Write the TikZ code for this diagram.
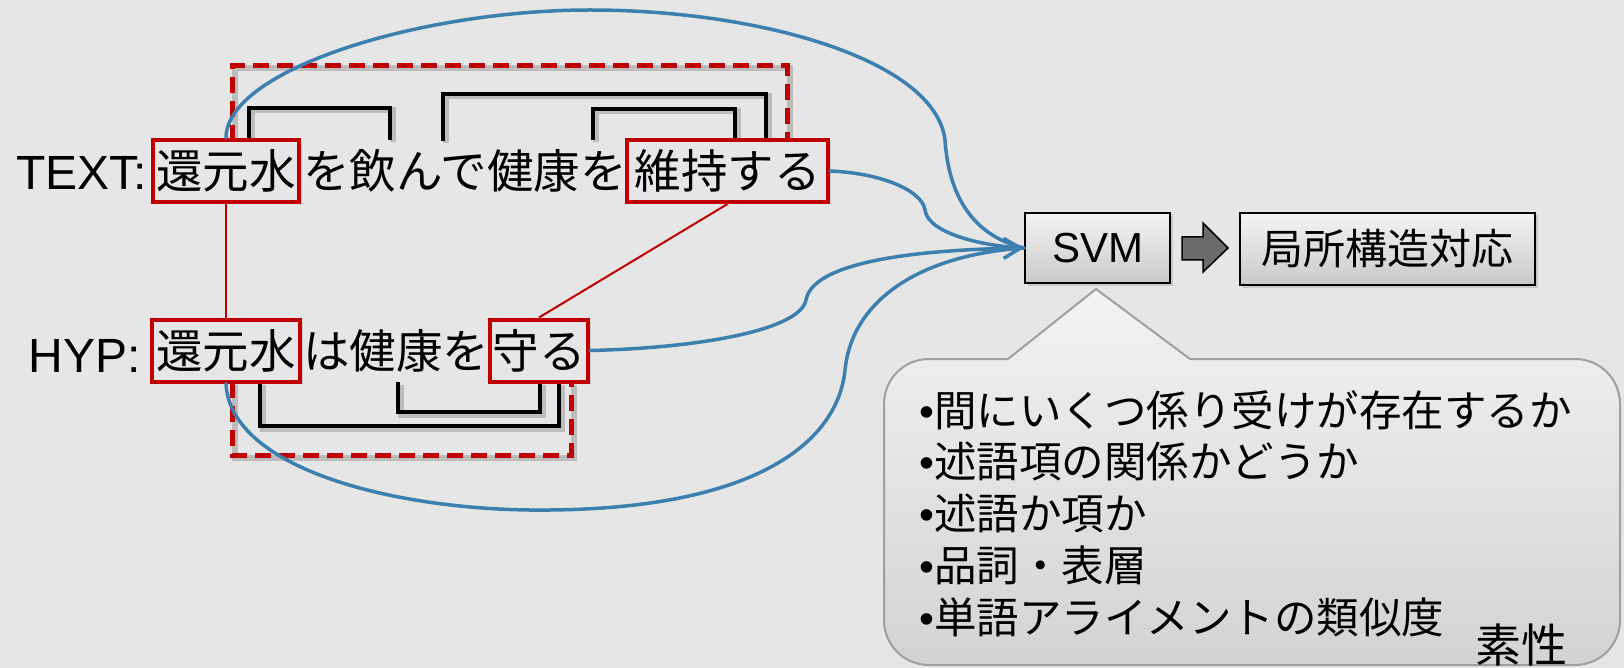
\documentclass[tikz,border=0pt]{standalone}
\usepackage{fontspec}
\setmainfont{Liberation Sans}
\newfontfamily\jp{Noto Sans CJK JP}
\usetikzlibrary{arrows.meta,shadows}
\definecolor{bg}{HTML}{E6E6E6}
\definecolor{dred}{HTML}{C00000}
\definecolor{sblue}{HTML}{3D7FAE}
\definecolor{agray}{HTML}{6B6B6B}
\definecolor{ctop}{HTML}{F3F3F3}
\definecolor{cbot}{HTML}{D3D3D3}
\definecolor{btop}{HTML}{F4F4F4}
\definecolor{bbot}{HTML}{C9C9C9}
\begin{document}
\begin{tikzpicture}[x=1pt,y=-1pt,
  lshadow/.style={preaction={draw=black, draw opacity=0.18, line width=6pt, transform canvas={xshift=2.5pt,yshift=-2.5pt}}},
  redbox/.style={draw=dred, line width=4pt, fill=bg, inner sep=0pt, minimum height=62pt,
    font=\jp\fontsize{46.5}{56}\selectfont,
    drop shadow={opacity=0.25, shadow xshift=2.5pt, shadow yshift=-2.5pt}},
  sent/.style={inner sep=0pt, anchor=base, font=\jp\fontsize{46.5}{56}\selectfont},
  lab/.style={inner sep=0pt, anchor=base east, font=\fontsize{48}{56}\selectfont},
  brk/.style={draw=black, line width=4pt, lshadow},
  dsh/.style={draw=dred, line width=5pt, dash pattern=on 16pt off 8pt, lshadow},
  rline/.style={draw=dred, line width=2pt},
  blu/.style={draw=sblue, line width=3.5pt, line cap=round},
  gbox/.style={draw=black, line width=2pt, top color=btop, bottom color=bbot, inner sep=0pt,
    drop shadow={opacity=0.3, shadow xshift=2.5pt, shadow yshift=-2.5pt}},
  cline/.style={inner sep=0pt, anchor=base west, font=\fontsize{42.5}{50}\selectfont}
]
\useasboundingbox (0,0) rectangle (1624,668);
\fill[bg] (0,0) rectangle (1624,668);

% dashed regions
\draw[dsh] (232,141) -- (232,66) -- (787,66) -- (787,141);
\draw[dsh] (232,382) -- (232,455) -- (571,455) -- (571,382);

% dependency brackets (TEXT)
\draw[brk] (249,140) -- (249,108) -- (390,108) -- (390,140);
\draw[brk] (443,141) -- (443,94) -- (766,94) -- (766,141);
\draw[brk] (593,140) -- (593,109) -- (735,109) -- (735,141);
% dependency brackets (HYP)
\draw[brk] (260,382) -- (260,426) -- (559,426) -- (559,382);
\draw[brk] (398,382) -- (398,412) -- (540,412) -- (540,382);

% text lines
\node[lab] (tlab) at (147,190) {TEXT:};
\node[redbox, minimum width=146pt] (tb1) at (226,171) {還元水};
\node[sent] (tmid) at (465,189) {を飲んで健康を};
\node[redbox, minimum width=201pt] (tb2) at (727.5,171) {維持する};

\node[lab] (hlab) at (141,372) {HYP:};
\node[redbox, minimum width=148pt] (hb1) at (226,350.5) {還元水};
\node[sent] (hmid) at (396,368.5) {は健康を};
\node[redbox, minimum width=98pt] (hb2) at (539,350.5) {守る};

% alignment lines
\draw[rline] (tb1.south) -- (hb1.north);
\draw[rline] (tb2.south) -- (hb2.north);

% SVM and result
\node[gbox, minimum width=145pt, minimum height=70pt, font=\fontsize{42}{50}\selectfont] (svm) at (1097.5,248) {SVM};
\node[gbox, minimum width=295pt, minimum height=72pt, font=\jp\fontsize{42}{50}\selectfont] (res) at (1387.5,249) {局所構造対応};
\draw[fill=agray, draw=black, line width=1.5pt] (1182,237) -- (1203,237) -- (1203,223) -- (1228,248) -- (1203,272) -- (1203,260) -- (1182,260) -- cycle;

% blue connectors
\draw[blu] (tb1.north) .. controls (226,70) and (420,10) .. (590,10)
  .. controls (760,10) and (935,60) .. (945,140)
  .. controls (950,215) and (990,240) .. (svm.west);
\draw[blu] (tb2.east) .. controls (880,173) and (922,190) .. (925,210)
  .. controls (928,235) and (990,247) .. (svm.west);
\draw[blu] (hb1.south) .. controls (230,470) and (400,512) .. (550,510)
  .. controls (760,508) and (838,440) .. (845,370)
  .. controls (852,300) and (920,255) .. (svm.west);
\draw[blu, -{Straight Barb[length=17pt,width=20pt]}] (hb2.east) .. controls (700,348) and (800,330) .. (806,300)
  .. controls (812,265) and (900,250) .. (svm.west);

% callout
\draw[draw=gray!75, line width=2pt, top color=ctop, bottom color=cbot]
  (1008,359) -- (1096,289) -- (1190,359) -- (1575,359)
  .. controls (1600,359) and (1620,379) .. (1620,404) -- (1620,620)
  .. controls (1620,645) and (1600,665) .. (1575,665) -- (929,665)
  .. controls (904,665) and (884,645) .. (884,620) -- (884,404)
  .. controls (884,379) and (904,359) .. (929,359) -- cycle;
\node[cline] (c1) at (919,426) {•{\jp 間にいくつ係り受けが存在するか}};
\node[cline] (c2) at (919,477.75) {•{\jp 述語項の関係かどうか}};
\node[cline] (c3) at (919,529.5) {•{\jp 述語か項か}};
\node[cline] (c4) at (919,581.25) {•{\jp 品詞・表層}};
\node[cline] (c5) at (919,633) {•{\jp 単語アライメントの類似度}};
\node[inner sep=0pt, anchor=base, font=\jp\fontsize{46}{50}\selectfont] (sosei) at (1521,662) {素性};
\end{tikzpicture}
\end{document}
